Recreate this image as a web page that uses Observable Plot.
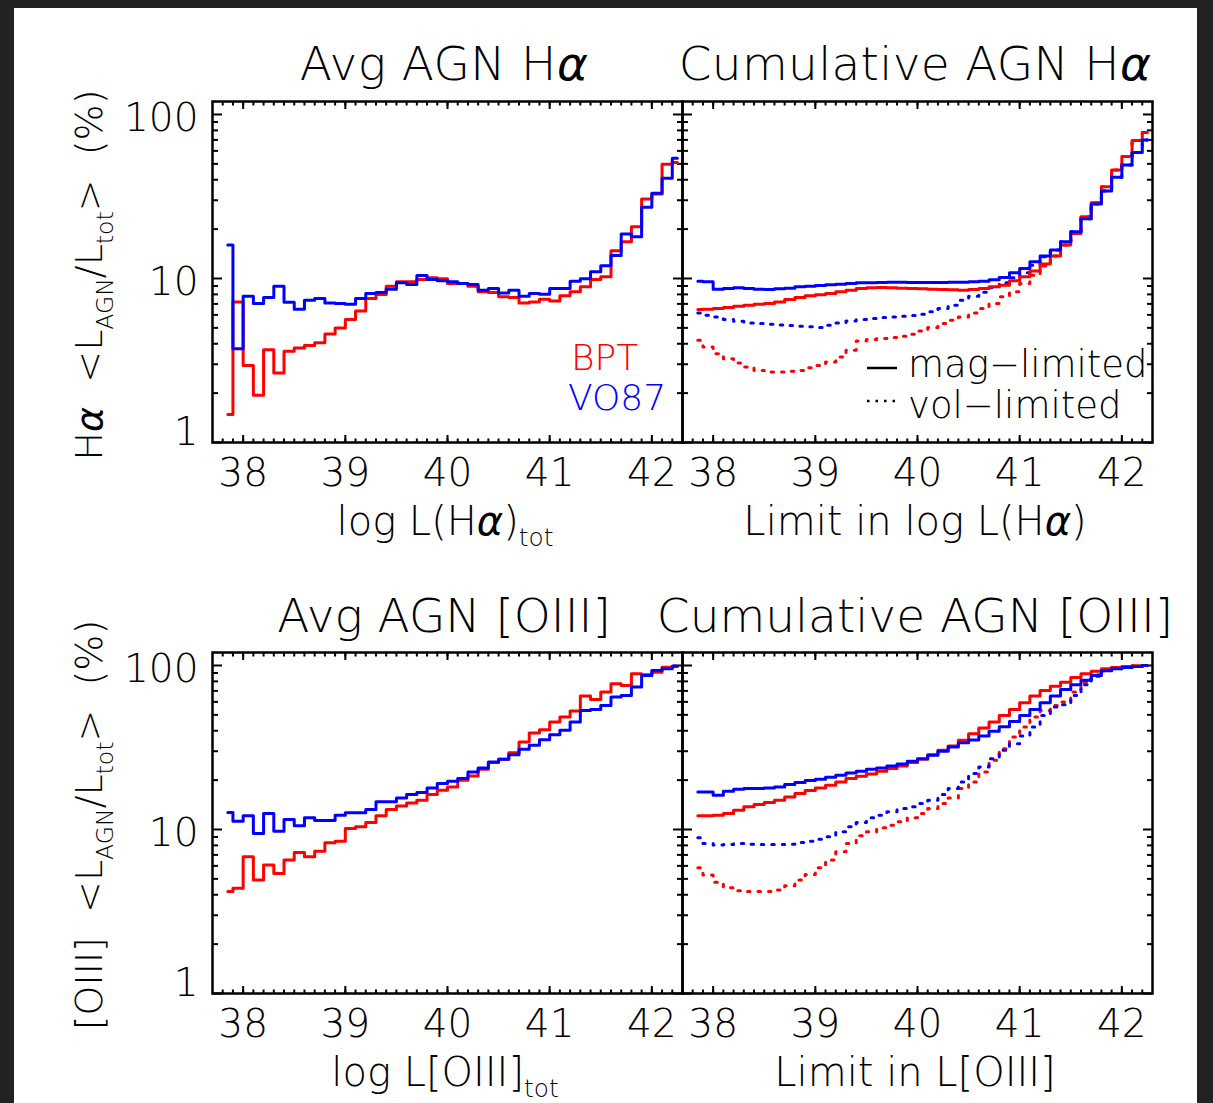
<!DOCTYPE html>
<html><head><meta charset="utf-8">
<script src="https://cdn.jsdelivr.net/npm/d3@7"></script>
<script src="https://cdn.jsdelivr.net/npm/@observablehq/plot@0.6"></script>
<style>
html, body { margin:0; padding:0; background:#222; }
#page { position:relative; width:1213px; height:1103px; background:#222; overflow:hidden; font-family:"DejaVu Sans", sans-serif; }
#sheet { position:absolute; left:14px; top:8px; width:1183px; height:1095px; background:#fff; }
.panel { position:absolute; }
.panel svg { overflow: visible; }
#overlay { position:absolute; left:0; top:0; pointer-events:none; }
</style></head>
<body><div id="page"><div id="sheet"></div></div>
<script>
// ---- data ----
const logL = [37.85, 37.95, 38.05, 38.15, 38.25, 38.35, 38.45, 38.55, 38.65, 38.75,
  38.85, 38.95, 39.05, 39.15, 39.25, 39.35, 39.45, 39.55, 39.65, 39.75,
  39.85, 39.95, 40.05, 40.15, 40.25, 40.35, 40.45, 40.55, 40.65, 40.75,
  40.85, 40.95, 41.05, 41.15, 41.25, 41.35, 41.45, 41.55, 41.65, 41.75,
  41.85, 41.95, 42.05, 42.15, 42.25];

const haAvgBPT = [1.48, 7.20, 2.95, 1.94, 3.68, 2.65, 3.60, 3.77, 3.90, 4.06,
  4.59, 4.99, 5.62, 6.34, 7.55, 7.98, 8.98, 9.54, 9.54, 9.86,
  10.09, 9.95, 9.32, 9.32, 8.98, 8.29, 8.21, 7.73, 7.66, 7.10,
  7.20, 7.48, 7.30, 7.84, 8.29, 8.90, 9.86, 10.24, 14.76, 16.75,
  20.69, 30.52, 32.75, 49.73, 50.9];
const haAvgVO87 = [16.0, 3.73, 7.80, 7.04, 7.66, 8.98, 7.17, 6.49, 7.37, 7.55,
  7.10, 7.04, 6.97, 7.55, 8.10, 8.21, 8.61, 9.41, 9.19, 10.43,
  9.86, 9.68, 9.54, 9.32, 9.19, 8.49, 8.69, 8.17, 8.49, 7.80,
  8.10, 8.02, 8.69, 8.69, 9.63, 9.95, 10.98, 11.95, 13.82, 18.66,
  17.97, 27.16, 33.05, 40.83, 54.1];

const haCumMagBPT = [6.46, 6.49, 6.56, 6.65, 6.78, 6.87, 6.97, 7.04, 7.20, 7.44,
  7.65, 7.84, 7.95, 8.10, 8.29, 8.49, 8.69, 8.77, 8.81, 8.77,
  8.73, 8.69, 8.65, 8.61, 8.57, 8.53, 8.49, 8.57, 8.69, 8.89,
  9.10, 9.68, 10.24, 11.09, 12.24, 13.69, 15.99, 18.84, 23.81, 29.0,
  36.32, 45.9, 55.4, 69.4, 77.6];
const haCumMagVO87 = [9.63, 9.54, 8.61, 8.69, 8.77, 8.69, 8.61, 8.57, 8.65, 8.73,
  8.89, 8.98, 9.06, 9.15, 9.23, 9.32, 9.41, 9.43, 9.45, 9.47,
  9.47, 9.46, 9.45, 9.45, 9.46, 9.47, 9.50, 9.54, 9.63, 9.81,
  10.14, 10.83, 11.51, 12.64, 13.69, 14.90, 16.75, 19.28, 23.15, 28.46,
  34.18, 41.41, 49.27, 58.6, 70.0];
const haCumVolBPT = [4.20, 3.82, 3.48, 3.24, 3.05, 2.89, 2.75, 2.69, 2.69, 2.72,
  2.75, 2.86, 2.95, 3.10, 3.32, 3.65, 4.16, 4.24, 4.30, 4.36,
  4.44, 4.57, 4.79, 5.02, 5.31, 5.56, 5.83, 6.17, 6.56, 7.04,
  7.73, 8.29, 9.32, 10.48, 11.9, 13.69, 15.99, 18.84, 23.81, 29.0,
  36.32, 45.9, 55.4, 69.4, 77.6];
const haCumVolVO87 = [6.17, 5.97, 5.83, 5.62, 5.49, 5.36, 5.31, 5.26, 5.21, 5.16,
  5.11, 5.07, 5.02, 5.19, 5.36, 5.51, 5.62, 5.70, 5.78, 5.83,
  5.89, 5.94, 6.05, 6.26, 6.56, 6.87, 7.37, 7.80, 8.25, 8.81,
  9.41, 10.09, 10.83, 12.06, 13.57, 14.90, 16.75, 19.28, 23.15, 28.46,
  34.18, 41.41, 49.27, 58.6, 70.0];

const o3AvgBPT = [4.18, 4.38, 6.82, 4.92, 6.07, 5.40, 6.51, 7.25, 6.82, 7.38,
  8.30, 8.49, 10.14, 10.38, 11.03, 12.11, 13.23, 13.93, 14.53, 15.08,
  16.33, 17.35, 18.18, 19.96, 21.21, 23.29, 25.57, 26.79, 29.42, 34.16,
  38.75, 40.60, 45.21, 48.50, 52.74, 65.09, 62.12, 68.84, 77.32, 75.54,
  88.95, 87.71, 91.06, 97.70, 99.06];
const o3AvgVO87 = [12.69, 11.24, 12.11, 9.46, 12.51, 9.77, 11.50, 10.53, 11.78, 11.34,
  11.34, 12.22, 12.63, 12.63, 13.23, 14.74, 14.74, 15.58, 16.33, 16.80,
  17.93, 19.05, 19.68, 20.43, 22.43, 23.73, 25.81, 26.79, 28.60, 30.83,
  32.60, 35.29, 37.86, 40.23, 45.21, 53.23, 53.99, 57.10, 64.18, 65.70,
  73.81, 86.92, 93.24, 95.44, 99.06];

const o3CumMagBPT = [12.11, 12.11, 12.22, 12.51, 13.11, 13.74, 14.20, 14.60, 15.08, 15.80,
  16.56, 17.27, 17.93, 18.61, 19.50, 20.43, 21.11, 21.81, 22.65, 23.51,
  24.40, 25.57, 26.79, 28.60, 30.40, 32.29, 34.96, 38.38, 41.56, 45.21,
  49.62, 53.99, 59.28, 65.09, 70.45, 74.84, 79.16, 84.53, 88.95, 92.36,
  95.44, 97.23, 98.6, 99.5, 100];
const o3CumMagVO87 = [16.95, 16.95, 16.18, 17.11, 17.60, 17.77, 17.77, 17.93, 18.18, 18.79,
  19.32, 19.87, 20.25, 20.82, 21.41, 22.12, 22.65, 23.29, 23.73, 24.40,
  25.10, 26.05, 27.04, 28.34, 29.98, 31.84, 33.83, 35.12, 37.15, 39.67,
  42.35, 45.62, 49.62, 53.99, 59.28, 65.09, 71.45, 76.26, 81.42, 86.92,
  92.79, 95.44, 97.23, 98.6, 100];
const o3CumVolBPT = [5.84, 5.27, 4.76, 4.42, 4.23, 4.18, 4.18, 4.18, 4.27, 4.54,
  4.92, 5.32, 5.84, 6.51, 7.31, 8.22, 9.15, 9.68, 10.24, 10.63,
  11.13, 11.78, 12.51, 13.42, 14.39, 15.58, 17.77, 19.50, 22.43, 26.42,
  31.11, 36.64, 42.15, 48.50, 53.23, 57.10, 59.84, 68.84, 79.16, 87.71,
  94.56, 97.23, 98.6, 99.5, 100];
const o3CumVolVO87 = [8.90, 8.22, 8.03, 8.10, 8.22, 8.14, 8.10, 8.10, 8.10, 8.14,
  8.34, 8.49, 8.73, 9.02, 9.68, 10.38, 11.03, 11.78, 12.22, 12.81,
  13.42, 13.74, 14.39, 15.08, 16.33, 17.77, 19.50, 21.92, 24.06, 27.04,
  30.40, 33.36, 37.15, 42.15, 49.62, 55.79, 57.63, 65.70, 76.26, 86.11,
  92.79, 95.44, 97.23, 98.6, 100];

const xTickValues = [38, 39, 40, 41, 42];
const yTickValues = [1, 10, 100];
const yMinorValues = [2, 3, 4, 5, 6, 7, 8, 9, 20, 30, 40, 50, 60, 70, 80, 90];
const xMinorValues = d3.range(378, 423).map(d => d / 10);

// ---- styling ----
const FONT = "'DejaVu Sans', sans-serif";
const WEIGHT = 200;
const RED = "#ff0000", BLUE = "#0000ff";
const DOTS = "2.5,8";

function rows(values) { return values.map((v, i) => ({x: logL[i], y: v})); }

function tickMarks() {
  const common = {fill: "none", label: null, tickFormat: () => "", stroke: "black", strokeWidth: 2};
  return [
    Plot.axisX(xMinorValues, {...common, anchor: "bottom", tickSize: 3.5, dy: -3.5}),
    Plot.axisX(xTickValues, {...common, anchor: "bottom", tickSize: 7, dy: -7}),
    Plot.axisX(xMinorValues, {...common, anchor: "top", tickSize: 3.5, dy: 3.5}),
    Plot.axisX(xTickValues, {...common, anchor: "top", tickSize: 7, dy: 7}),
    Plot.axisY(yMinorValues, {...common, anchor: "left", tickSize: 6, dx: 6}),
    Plot.axisY(yTickValues, {...common, anchor: "left", tickSize: 10, dx: 10}),
    Plot.axisY(yMinorValues, {...common, anchor: "right", tickSize: 6, dx: -6}),
    Plot.axisY(yTickValues, {...common, anchor: "right", tickSize: 10, dx: -10})
  ];
}

function panel({left, top, isLeft, lines}) {
  const mL = isLeft ? 112 : 0, mR = isLeft ? 0 : 20;
  const marks = [
    ...tickMarks(),
    Plot.text(xTickValues, {x: d => d, text: d => String(d), frameAnchor: "bottom", dy: 31,
      lineAnchor: "middle", fontSize: 39, fontWeight: WEIGHT, fill: "black"})
  ];
  if (isLeft) {
    marks.push(Plot.text(yTickValues.filter(d => d > 1), {y: d => d, text: d => String(d),
      frameAnchor: "left", dx: -14, dy: 4, textAnchor: "end", lineAnchor: "middle", fontSize: 39, fontWeight: WEIGHT, fill: "black"}));
    marks.push(Plot.text(yTickValues.filter(d => d === 1), {y: d => d, text: d => String(d),
      frameAnchor: "left", dx: -14, dy: -10, textAnchor: "end", lineAnchor: "middle", fontSize: 39, fontWeight: WEIGHT, fill: "black"}));
  }
  for (const l of lines) {
    marks.push(Plot.line(rows(l.values), {x: "x", y: "y", curve: "step", stroke: l.color,
      strokeWidth: 3, strokeDasharray: l.dotted ? DOTS : null}));
  }
  marks.push(Plot.frame({stroke: "black", strokeWidth: 2.5}));
  const chart = Plot.plot({
    width: mL + 470 + mR,
    height: 11 + 341 + 60,
    marginLeft: mL, marginRight: mR, marginTop: 11, marginBottom: 60,
    style: {background: "transparent", overflow: "visible", fontFamily: FONT, color: "black"},
    x: {domain: [37.7, 42.3], axis: null},
    y: {type: "log", domain: [1, 120], axis: null},
    marks
  });
  const div = document.createElement("div");
  div.className = "panel";
  div.style.left = (left - mL) + "px";
  div.style.top = (top - 11) + "px";
  div.appendChild(chart);
  document.getElementById("page").appendChild(div);
}

const L0 = 212, L1 = 682, T0 = 101, T1 = 652;
panel({left: L0, top: T0, isLeft: true, lines: [
  {values: haAvgBPT, color: RED}, {values: haAvgVO87, color: BLUE}]});
panel({left: L1, top: T0, isLeft: false, lines: [
  {values: haCumVolBPT, color: RED, dotted: true}, {values: haCumVolVO87, color: BLUE, dotted: true},
  {values: haCumMagBPT, color: RED}, {values: haCumMagVO87, color: BLUE}]});
panel({left: L0, top: T1, isLeft: true, lines: [
  {values: o3AvgBPT, color: RED}, {values: o3AvgVO87, color: BLUE}]});
panel({left: L1, top: T1, isLeft: false, lines: [
  {values: o3CumVolBPT, color: RED, dotted: true}, {values: o3CumVolVO87, color: BLUE, dotted: true},
  {values: o3CumMagBPT, color: RED}, {values: o3CumMagVO87, color: BLUE}]});

// ---- text overlay ----
const svg = d3.create("svg").attr("id", "overlay").attr("width", 1213).attr("height", 1103)
  .attr("font-family", FONT).attr("font-weight", WEIGHT);
function rich(x, y, parts, size, opts = {}) {
  const t = svg.append("text").attr("x", x).attr("y", y).attr("font-size", size)
    .attr("text-anchor", opts.anchor || "middle").attr("fill", opts.fill || "black");
  if (opts.spacing) t.attr("letter-spacing", opts.spacing);
  if (opts.rotate) t.attr("transform", `rotate(${opts.rotate},${x},${y})`);
  let shift = 0;
  for (const p of parts) {
    const s = t.append("tspan").text(p.t);
    if (p.sub) { s.attr("font-size", size * 0.62).attr("dy", size * 0.28 - shift); shift = size * 0.28; }
    else if (shift) { s.attr("dy", -shift); shift = 0; }
    if (p.it) s.attr("font-style", "italic").attr("font-weight", 500);
  }
}
const NB = "\u00A0";
const alpha = {t: "\u03B1", it: true};
rich(444, 80, [{t: "Avg AGN H"}, alpha], 47, {spacing: 0.4});
rich(915, 80, [{t: "Cumulative AGN H"}, alpha], 47, {spacing: 0.3});
rich(444, 632, [{t: "Avg AGN [OIII]"}], 47);
rich(915, 632, [{t: "Cumulative AGN [OIII]"}], 47);

rich(445, 535, [{t: "log L(H"}, alpha, {t: ")"}, {t: "tot", sub: true}], 40);
rich(915, 535, [{t: "Limit in log L(H"}, alpha, {t: ")"}], 40);
rich(445, 1086, [{t: "log L[OIII]"}, {t: "tot", sub: true}], 40);
rich(915, 1086, [{t: "Limit in L[OIII]"}], 40);

const yl = [{t: NB + NB + "<L"}, {t: "AGN", sub: true}, {t: "/L"}, {t: "tot", sub: true}, {t: ">" + NB + NB + "(%)"}];
rich(102, 275, [{t: "H"}, alpha, ...yl], 38, {rotate: -90});
rich(102, 825, [{t: "[OIII]"}, ...yl], 38, {rotate: -90});

rich(571, 370, [{t: "BPT"}], 36, {anchor: "start", fill: RED});
rich(568, 410, [{t: "VO87"}], 36, {anchor: "start", fill: BLUE});

svg.append("line").attr("x1", 867).attr("x2", 897).attr("y1", 368).attr("y2", 368)
  .attr("stroke", "black").attr("stroke-width", 2.5);
svg.append("line").attr("x1", 867).attr("x2", 897).attr("y1", 401).attr("y2", 401)
  .attr("stroke", "black").attr("stroke-width", 2.5).attr("stroke-dasharray", "2.5,6");
rich(908, 377, [{t: "mag\u2212limited"}], 37, {anchor: "start"});
rich(908, 418, [{t: "vol\u2212limited"}], 37, {anchor: "start"});

document.getElementById("page").appendChild(svg.node());
</script>
</body></html>
